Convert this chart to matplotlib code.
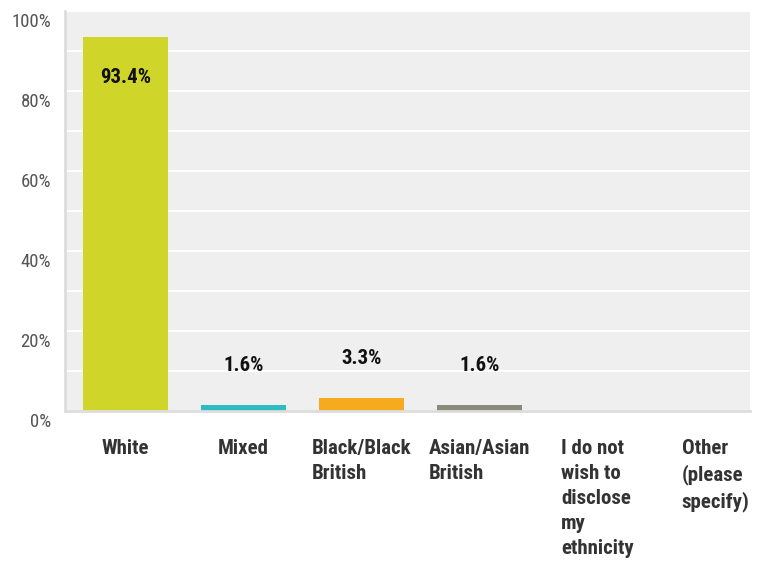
import matplotlib
matplotlib.use("Agg")
import matplotlib.pyplot as plt
import matplotlib.transforms as mtransforms

categories = ["White", "Mixed", "Black/Black\nBritish", "Asian/Asian\nBritish",
              "I do not\nwish to\ndisclose\nmy\nethnicity", "Other\n(please\nspecify)"]
values = [93.4, 1.6, 3.3, 1.6, 0.0, 0.0]
labels = ["93.4%", "1.6%", "3.3%", "1.6%", "", ""]
colors = ["#cfd529", "#2dbcbf", "#f6ab1f", "#8a8a78", "#cccccc", "#cccccc"]
yticks = [0, 20, 40, 60, 80, 100]

plt.rcParams['font.family'] = ['Roboto Condensed', 'Liberation Sans', 'DejaVu Sans']

fig = plt.figure(figsize=(7.63, 5.64), dpi=100)
ax = fig.add_axes([65/763, 1-411/564, (750-65)/763, (411-11)/564])
ax.set_facecolor("#efefef")

x = list(range(len(categories)))
ax.set_xlim(-0.5127, 5.292)
ax.set_ylim(0, 100)
ax.grid(axis='y', color='white', linewidth=1.5)
ax.set_axisbelow(True)

bars = ax.bar(x, values, width=0.72, color=colors)

for i, (v, lab) in enumerate(zip(values, labels)):
    if not lab:
        continue
    off = -29 if v > 50 else 28
    ax.annotate(lab, (x[i], v), xytext=(0, off), textcoords='offset points',
                ha='center', va='center', fontsize=15, fontweight='bold', color='#111111')

ax.set_yticks(list(range(0, 101, 10)))
ax.set_yticklabels([f"{t}%" if t in yticks else "" for t in range(0, 101, 10)],
                   fontsize=13.5, color='#555555')
ax.tick_params(axis='y', length=0, pad=10)
shift = mtransforms.ScaledTranslation(0, -9/100, fig.dpi_scale_trans)
for lbl in ax.get_yticklabels():
    lbl.set_transform(lbl.get_transform() + shift)

ax.set_xticks(x)
ax.set_xticklabels(categories, fontsize=15, fontweight='bold', color='#333333',
                   ha='center', va='top', multialignment='left', linespacing=1.4)
ax.tick_params(axis='x', length=0, pad=20)

for s in ['top', 'right']:
    ax.spines[s].set_visible(False)
for s in ['left', 'bottom']:
    ax.spines[s].set_color('#dddddd')
    ax.spines[s].set_linewidth(2)

fig.savefig("out.png", dpi=100, facecolor='white')
